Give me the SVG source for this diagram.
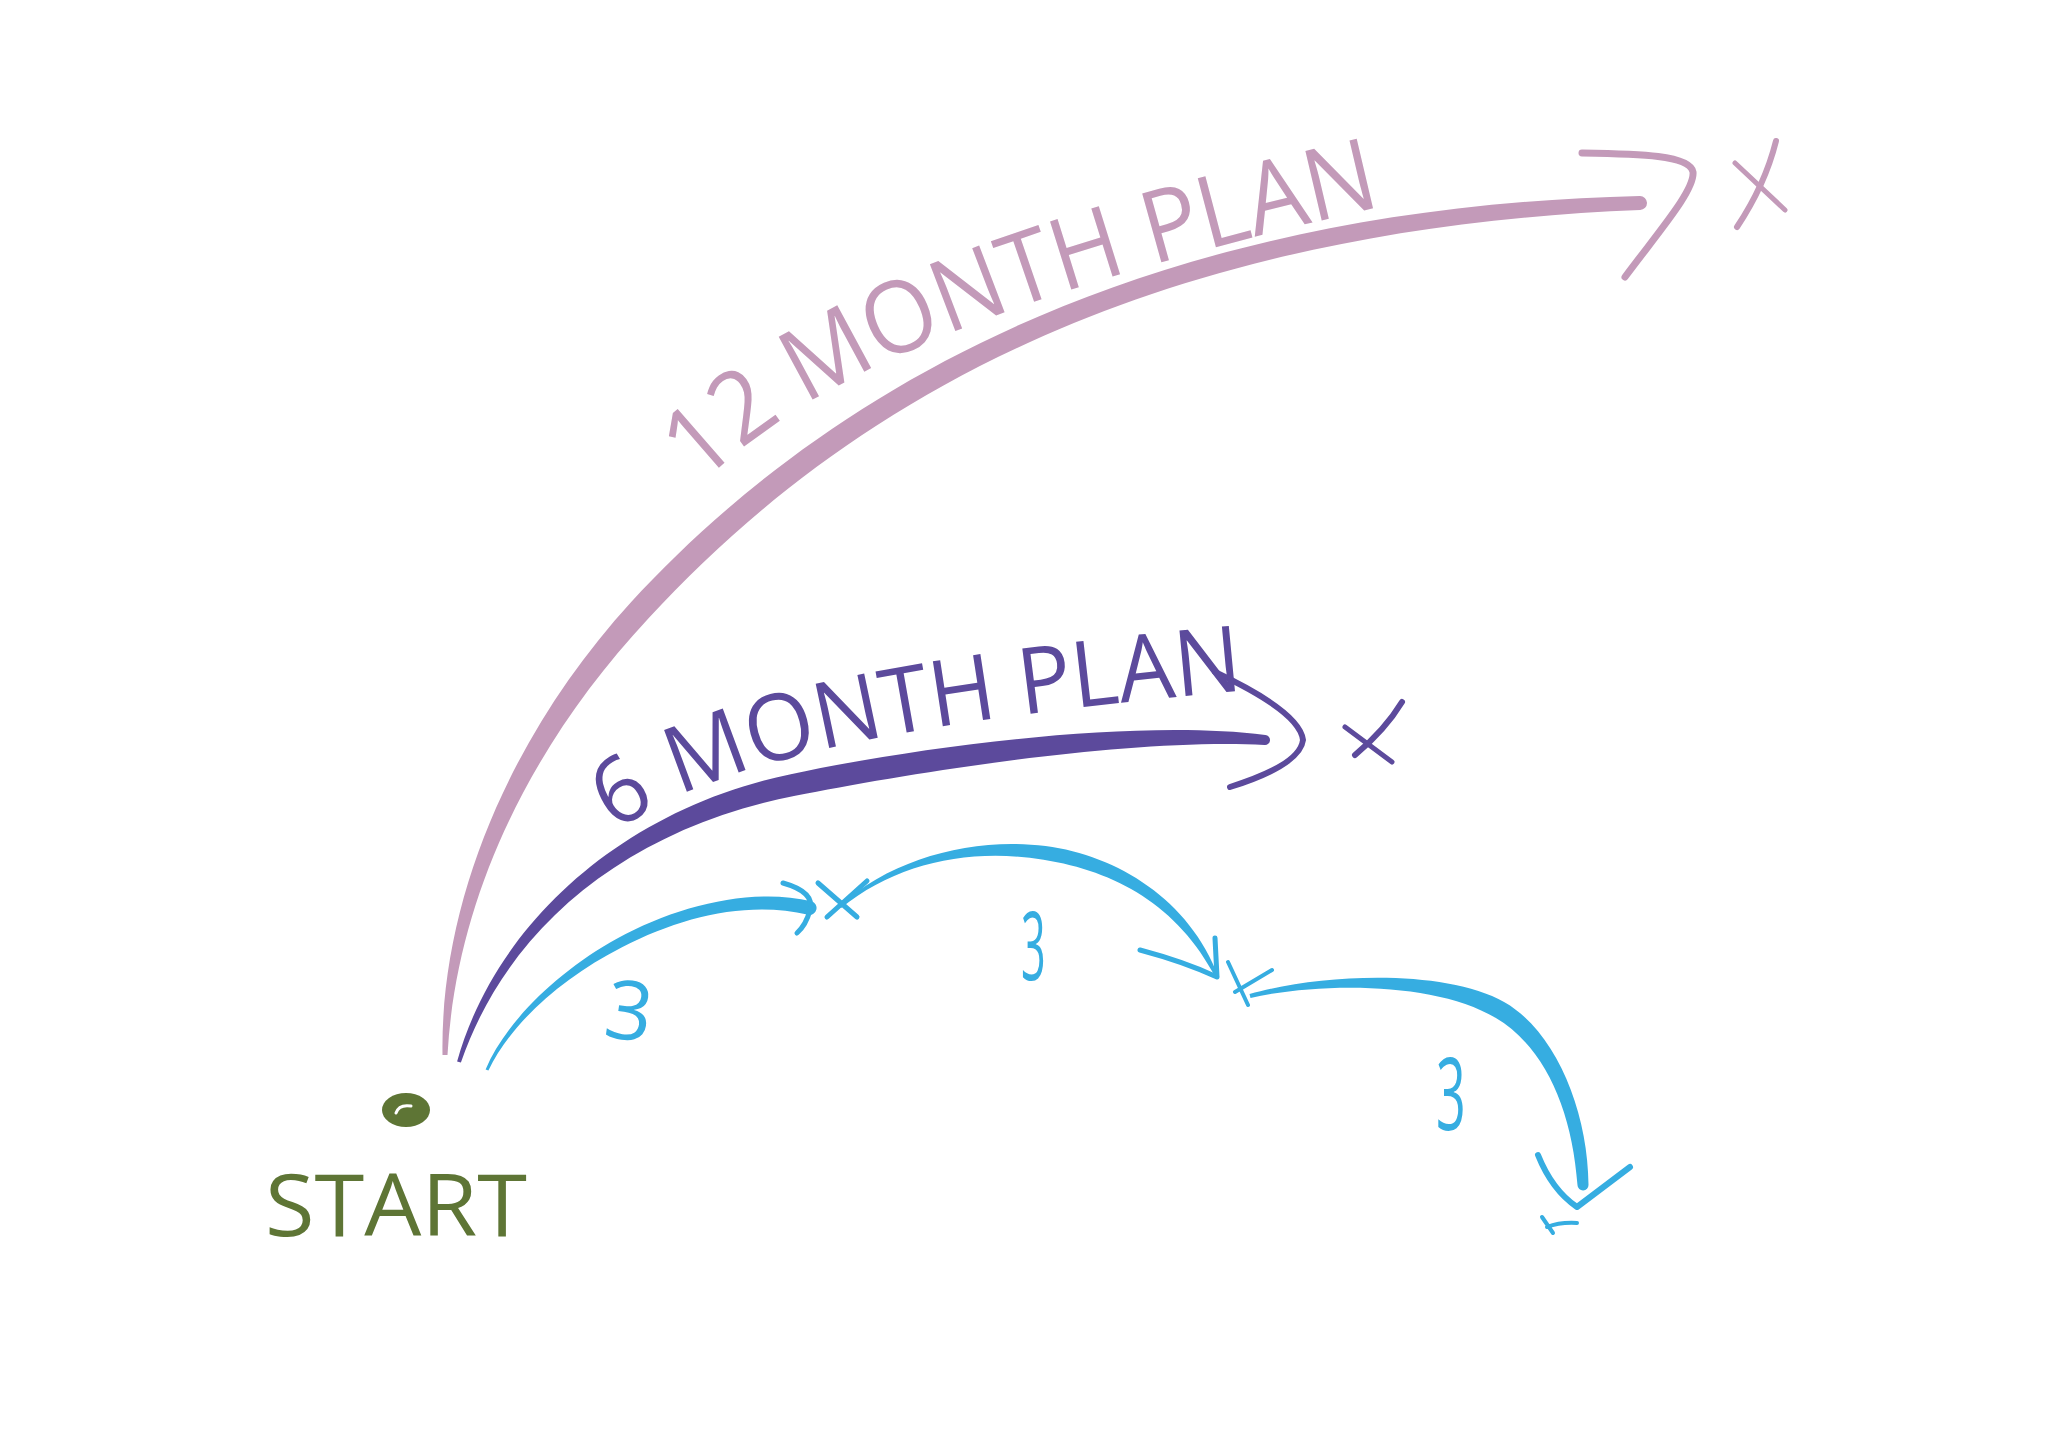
<svg xmlns="http://www.w3.org/2000/svg" width="2048" height="1448" viewBox="0 0 2048 1448">
<style>
.pink{fill:#c39ab9}
.purple{fill:#5c4a9c}
.blue{fill:#36ade1}
.ps{fill:none;stroke:#c39ab9;stroke-linecap:round;stroke-linejoin:round}
.us{fill:none;stroke:#5c4a9c;stroke-linecap:round;stroke-linejoin:round}
.bs{fill:none;stroke:#36ade1;stroke-linecap:round;stroke-linejoin:round}
.hand{font-family:"Open Sans","Liberation Sans",sans-serif;font-weight:400}
</style>
<defs>
<path id="p12" d="M 700 485 C 800 390, 960 300, 1410 200"/>
<path id="p6" d="M 615 832 C 705 770, 855 725, 1250 690"/>
</defs>
<rect width="2048" height="1448" fill="#ffffff"/>

<g id="connectors">
  <g id="arc-12-month">
    <path class="pink" d="M 442.5 1055 C 440 899.8 511.9 732.5 631.2 601.9 C 799.2 419.9 1099.7 209 1639.8 196 A 7 7 0 0 1 1640.2 210 C 1100.3 231 816.8 436.1 648.8 618.1 C 528.1 747.5 456 900.2 447.5 1055 Z"/>
    <path class="ps" stroke-width="7" d="M 1582 153 C 1640 154, 1690 155, 1693 172 C 1695 190, 1660 230, 1625 277"/>
  </g>
  <g id="arc-6-month">
    <path class="purple" d="M 457.1 1061.4 C 494.3 928.2 618 810.2 790.8 774.2 C 911.6 748.2 1130.9 718 1265.4 735 A 5 5 0 0 1 1264.6 745 C 1129.1 738 916.4 771.8 795.2 795.8 C 622 829.8 505.7 931.8 460.9 1062.6 Z"/>
    <path class="us" stroke-width="6" d="M 1215 672 Q 1300 712 1303 740 Q 1300 765 1230 787"/>
  </g>
  <g id="arc-3-month-1">
    <path class="blue" d="M 485.6 1069.4 C 506.2 1021.5 557.4 971.5 617.2 938.5 C 677.2 905.5 751.6 887.2 811.6 901.2 A 7 7 0 0 1 808.4 914.8 C 748.4 900.8 682.8 916 622 947.3 C 561.1 978.5 510.8 1023.5 488.4 1070.6 Z"/>
    <path class="bs" stroke-width="5" d="M 783 883 Q 815 892 810 910 Q 806 925 797 933"/>
  </g>
  <g id="arc-3-month-2">
    <path class="blue" d="M 839 905.9 C 893 857.8 973.3 836.8 1045.6 846 C 1117.9 855.6 1189.5 900 1218.4 976.4 L 1215.6 977.6 C 1177.5 905 1115.6 871.4 1043.6 859.8 C 971.7 847.7 897 862.2 841 908.1 Z"/>
    <path class="bs" stroke-width="5" d="M 1140 950 Q 1185 962 1217 977 M 1215 938 L 1217 977"/>
  </g>
  <g id="arc-3-month-3">
    <path class="blue" d="M 1249.5 994.1 C 1319 974.1 1444 968.1 1504.5 1002.2 C 1554.8 1030.8 1588 1109.7 1588.5 1184.8 A 5.5 5.5 0 0 1 1577.5 1185.2 C 1572 1110.3 1545.2 1047.2 1495.5 1017.8 C 1436 981.9 1321 982 1250.5 997.9 Z"/>
    <path class="bs" stroke-width="6" d="M 1538 1155 Q 1552 1190 1577 1207 L 1630 1167"/>
    <path class="bs" stroke-width="4" d="M 1542 1217 L 1553 1233 M 1547 1227 Q 1560 1222 1577 1223"/>
  </g>
</g>

<g id="node-start">
  <ellipse cx="406" cy="1110" rx="24" ry="17" fill="#5e7535"/>
  <path d="M 396 1113 Q 399 1104 411 1106" fill="none" stroke="#ffffff" stroke-width="3" stroke-linecap="round"/>
  <text class="hand" x="265" y="1236" font-size="86" fill="#5e7535" textLength="262" lengthAdjust="spacingAndGlyphs">START</text>
</g>

<g id="node-12-month">
  <text class="hand" font-size="100" fill="#c39ab9"><textPath href="#p12" textLength="745" lengthAdjust="spacingAndGlyphs">12 MONTH PLAN</textPath></text>
  <path class="ps" stroke-width="6" d="M 1776 141 Q 1765 185 1737 227"/>
  <path class="ps" stroke-width="5" d="M 1735 163 L 1785 210"/>
</g>

<g id="node-6-month">
  <text class="hand" font-size="92" fill="#5c4a9c"><textPath href="#p6" textLength="650" lengthAdjust="spacingAndGlyphs">6 MONTH PLAN</textPath></text>
  <path class="us" stroke-width="5" d="M 1345 727 L 1392 762"/>
  <path class="us" stroke-width="6" d="M 1402 702 Q 1385 730 1355 755"/>
</g>

<g id="node-3-month-a">
  <text class="hand" x="606" y="1040" font-size="82" fill="#36ade1" transform="rotate(8 630 1010)">3</text>
  <path class="bs" stroke-width="5" d="M 818 883 L 857 917 M 867 881 L 827 917"/>
</g>
<g id="node-3-month-b">
  <text class="hand" font-size="96" fill="#36ade1" transform="translate(1021 980) scale(0.45 1)">3</text>
  <path class="bs" stroke-width="4" d="M 1228 962 L 1248 1005 M 1272 970 L 1235 992"/>
</g>
<g id="node-3-month-c">
  <text class="hand" font-size="100" fill="#36ade1" transform="translate(1436 1130) scale(0.52 1)">3</text>
</g>
</svg>
